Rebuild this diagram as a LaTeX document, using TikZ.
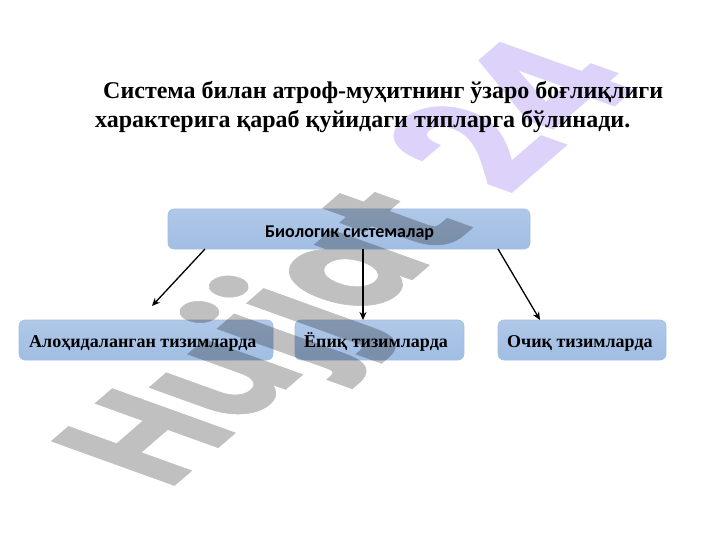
\documentclass[tikz,border=0pt]{standalone}
\usepackage{fontspec}
\setmainfont{Liberation Serif}
\newfontfamily\boxsans{Carlito}
\newfontfamily\wmfont[FakeBold=0.5]{Poppins}
\usetikzlibrary{arrows.meta,calc}
\definecolor{boxtop}{HTML}{B0C8E8}
\definecolor{boxbot}{HTML}{A0BDE3}
\definecolor{boxedge}{HTML}{A3BFE2}
\definecolor{wmgray}{HTML}{C0C0C0}
\definecolor{wmlav}{HTML}{DCD2FA}
\tikzset{
  tbox/.style={draw=boxedge,line width=0.6pt,rounded corners=6pt,top color=boxtop,bottom color=boxbot,shading angle=0,minimum height=40pt,inner sep=0pt},
  lab/.style={font=\bfseries\fontsize{18}{20}\selectfont,text=black,inner sep=0pt,anchor=base west},
  title/.style={font=\bfseries\fontsize{24}{26}\selectfont,text=black,inner sep=0pt,anchor=base west},
  conn/.style={draw=black,line width=1.3pt,-{Stealth[length=8pt,width=7pt]}}
}
\begin{document}
\begin{tikzpicture}[x=1pt,y=-1pt]
\useasboundingbox (0,0) rectangle (720,540);
\fill[white] (0,0) rectangle (720,540);
% boxes
\node[tbox,minimum width=362pt] (bio) at (349,229) {};
\node[tbox,minimum width=254pt] (aloh) at (146,340) {};
\node[tbox,minimum width=169pt] (epiq) at (379.5,340) {};
\node[tbox,minimum width=168pt] (ochiq) at (582,340) {};
% watermark
\begin{scope}[blend mode=multiply]
\begin{scope}[transparency group]
\begin{scope}[shift={(168,491)}]
\begin{scope}[cm={1.00,0.865,-1.75,0.63,(0,0)}]
\node[transform shape,inner sep=0pt,anchor=base west] (wm) at (0,0) {\wmfont\bfseries\fontsize{100}{100}\selectfont\textcolor{wmgray}{Hujjat}};
\end{scope}
\end{scope}
\begin{scope}[shift={(509,197)}]
\begin{scope}[cm={1.10,0.95,-1.85,0.66,(0,0)}]
\node[transform shape,inner sep=0pt,anchor=base west] (wn) at (0,0) {\wmfont\bfseries\fontsize{100}{100}\selectfont\textcolor{wmlav}{24}};
\end{scope}
\end{scope}
\end{scope}
\end{scope}
% connectors
\coordinate (a1s) at (205,249); \coordinate (a1e) at (152,306);
\coordinate (a2s) at (363,249); \coordinate (a2e) at (363,320);
\coordinate (a3s) at (498,249); \coordinate (a3e) at (540,320);
\draw[conn] (a1s) -- (a1e);
\draw[conn] (a2s) -- (a2e);
\draw[conn] (a3s) -- (a3e);
% text
\node[title] (t1) at (103,99) {Система билан атроф-муҳитнинг ўзаро боғлиқлиги};
\node[title] (t2) at (95,128) {характерига қараб қуйидаги типларга бўлинади.};
\node[inner sep=0pt,anchor=base west,font=\boxsans\bfseries\fontsize{18}{20}\selectfont] (bt) at (265,237) {Биологик системалар};
\node[lab] (l1) at (29,347) {Алоҳидаланган тизимларда};
\node[lab] (l2) at (304,347) {Ёпиқ тизимларда};
\node[lab] (l3) at (507,347) {Очиқ тизимларда};
\end{tikzpicture}
\end{document}
